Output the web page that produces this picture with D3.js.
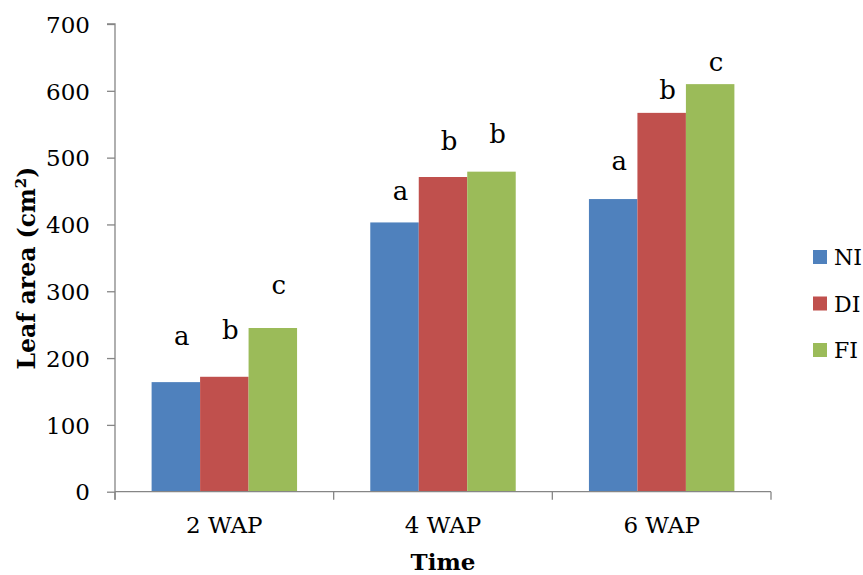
<!DOCTYPE html>
<html>
<head>
<meta charset="utf-8">
<script src="https://cdn.jsdelivr.net/npm/d3@7"></script>
<style>
  html, body { margin: 0; padding: 0; background: #fff; }
  svg { display: block; }
  text { font-family: "DejaVu Serif", "Liberation Serif", serif; fill: #000; }
</style>
</head>
<body>
<svg id="chart" width="863" height="575"></svg>
<script>
// ---- data ----
const categories = ["2 WAP", "4 WAP", "6 WAP"];
const seriesNames = ["NI", "DI", "FI"];
const NI = [164, 403, 438];
const DI = [172, 471, 567];
const FI = [245, 479, 610];
const lettersNI = ["a", "a", "a"];
const lettersDI = ["b", "b", "b"];
const lettersFI = ["c", "b", "c"];
// letter anchor heights (data units)
const letterAtNI = [220, 436, 482];
const letterAtDI = [229, 511, 588];
const letterAtFI = [296, 522, 630];
const yTicks = [0, 100, 200, 300, 400, 500, 600, 700];
const colors = ["#4F81BD", "#C0504D", "#9BBB59"];

const series = [
  { name: seriesNames[0], values: NI, letters: lettersNI, at: letterAtNI },
  { name: seriesNames[1], values: DI, letters: lettersDI, at: letterAtDI },
  { name: seriesNames[2], values: FI, letters: lettersFI, at: letterAtFI }
];

// ---- layout ----
const svg = d3.select("#chart");
const mLeft = 115, mRight = 771, mTop = 24, mBottom = 491.7;

const x = d3.scaleBand().domain(categories).range([mLeft, mRight]).paddingInner(0).paddingOuter(0);
const inner = d3.scaleBand().domain(seriesNames).range([0, x.bandwidth()]).paddingInner(0).paddingOuter(0.755);
const y = d3.scaleLinear().domain([0, 700]).range([mBottom, mTop]);
const color = d3.scaleOrdinal().domain(seriesNames).range(colors);

// bars
const groups = svg.append("g").selectAll("g")
  .data(categories)
  .join("g")
  .attr("transform", d => `translate(${x(d)},0)`);

groups.selectAll("rect")
  .data((c, i) => series.map(s => ({ name: s.name, v: s.values[i] })))
  .join("rect")
  .attr("x", d => inner(d.name))
  .attr("width", inner.bandwidth())
  .attr("y", d => y(d.v))
  .attr("height", d => y(0) - y(d.v))
  .attr("fill", d => color(d.name));

// letters
groups.selectAll("text.letter")
  .data((c, i) => series.map(s => ({ name: s.name, l: s.letters[i], at: s.at[i] })))
  .join("text")
  .attr("class", "letter")
  .attr("x", d => inner(d.name) + inner.bandwidth() / 2 + 6)
  .attr("y", d => y(d.at))
  .attr("text-anchor", "middle")
  .attr("font-size", 26)
  .text(d => d.l);

// y axis
const yAxis = d3.axisLeft(y).tickValues(yTicks).tickSize(8).tickPadding(17).tickFormat(d3.format("d"));
const gy = svg.append("g").attr("transform", `translate(${mLeft},0)`).call(yAxis);
gy.select(".domain").attr("stroke", "#868686").attr("stroke-width", 1.3).attr("d", `M-8,${mTop}H0V${mBottom + 8}`);
gy.selectAll(".tick line").attr("stroke", "#868686").attr("stroke-width", 1.3);
gy.selectAll(".tick text").attr("font-size", 23).attr("font-family", "DejaVu Serif").attr("fill", "#000").attr("dy", "0.36em");

// x axis
const xAxis = d3.axisBottom(x).tickSize(0).tickPadding(0);
const gx = svg.append("g").attr("transform", `translate(0,${mBottom})`).call(xAxis);
gx.select(".domain").attr("stroke", "#868686").attr("stroke-width", 1.3).attr("d", `M${mLeft},0H${mRight}`);
gx.selectAll(".tick text").attr("font-size", 23).attr("font-family", "DejaVu Serif").attr("fill", "#000").attr("y", 41).attr("dy", 0);
// boundary tick marks
const bounds = categories.map(c => x(c)).concat([x(categories[categories.length - 1]) + x.bandwidth()]);
gx.selectAll("line.bound").data(bounds).join("line")
  .attr("class", "bound")
  .attr("x1", d => d).attr("x2", d => d)
  .attr("y1", 0).attr("y2", 8)
  .attr("stroke", "#868686").attr("stroke-width", 1.3);

// axis titles
svg.append("text")
  .attr("x", (mLeft + mRight) / 2)
  .attr("y", 570)
  .attr("text-anchor", "middle")
  .attr("font-size", 23)
  .attr("font-weight", "bold")
  .text("Time");

const yt = svg.append("text")
  .attr("transform", `translate(35,268) rotate(-90)`)
  .attr("text-anchor", "middle")
  .attr("font-size", 23.5)
  .attr("font-weight", "bold");
yt.append("tspan").text("Leaf area (cm");
yt.append("tspan").attr("font-size", 15).attr("dy", -9).text("2");
yt.append("tspan").attr("dy", 9).text(")");

// legend
const legend = svg.append("g").selectAll("g")
  .data(seriesNames)
  .join("g")
  .attr("transform", (d, i) => `translate(813,${250 + i * 46.5})`);
legend.append("rect").attr("width", 14).attr("height", 14).attr("fill", d => color(d));
legend.append("text").attr("x", 21).attr("y", 15).attr("font-size", 22).text(d => d);
</script>
</body>
</html>
